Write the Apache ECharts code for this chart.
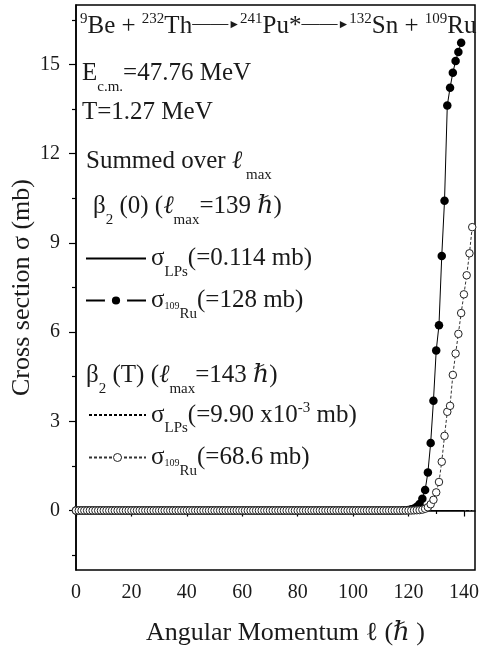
<!DOCTYPE html>
<html>
<head>
<meta charset="utf-8">
<script src="https://cdn.jsdelivr.net/npm/echarts@6/dist/echarts.min.js"></script>
<style>html,body{margin:0;padding:0;background:#fff}#c{width:481px;height:650px}</style>
</head>
<body>
<div id="c"></div>
<script>
// ---- data (σ in mb per angular momentum ℓ; ℓ = array index) ----
const sigmaRu109Beta0 = [
  0,0,0,0,0,0,0,0,0,0,
  0,0,0,0,0,0,0,0,0,0,
  0,0,0,0,0,0,0,0,0,0,
  0,0,0,0,0,0,0,0,0,0,
  0,0,0,0,0,0,0,0,0,0,
  0,0,0,0,0,0,0,0,0,0,
  0,0,0,0,0,0,0,0,0,0,
  0,0,0,0,0,0,0,0,0,0,
  0,0,0,0,0,0,0,0,0,0,
  0,0,0,0,0,0,0,0,0,0,
  0,0,0,0,0,0,0,0,0,0,
  0,0,0,0,0,0,0,0,
  0.01,0.01,0.02,0.04,0.07,0.13,0.22,0.40,0.69,1.28,
  2.27,3.69,5.38,6.23,8.56,10.42,13.62,14.22,14.72,15.12,
  15.42,15.73
];
const sigmaRu109BetaT = [
  0,0,0,0,0,0,0,0,0,0,
  0,0,0,0,0,0,0,0,0,0,
  0,0,0,0,0,0,0,0,0,0,
  0,0,0,0,0,0,0,0,0,0,
  0,0,0,0,0,0,0,0,0,0,
  0,0,0,0,0,0,0,0,0,0,
  0,0,0,0,0,0,0,0,0,0,
  0,0,0,0,0,0,0,0,0,0,
  0,0,0,0,0,0,0,0,0,0,
  0,0,0,0,0,0,0,0,0,0,
  0,0,0,0,0,0,0,0,0,0,
  0,0,0,0,0,0,0,0,0,0,
  0,0,
  0.005,0.01,0.015,0.03,0.06,0.11,0.21,0.36,0.61,0.96,
  1.64,2.51,3.32,3.52,4.56,5.28,5.94,6.64,7.27,7.91,
  8.65,9.53
];
const lpsBeta0 = [[0, 0], [139, 0]];
const lpsBetaT = [[0, 0], [143, 0]];
const xTicks = [0, 20, 40, 60, 80, 100, 120, 140];
const xMinorTicks = [10, 30, 50, 70, 90, 110, 130];
const yTicks = [0, 3, 6, 9, 12, 15];
const yMinorTicks = [-1.5, 1.5, 4.5, 7.5, 10.5, 13.5, 16.5];
const seriesNames = ['σLPs β2(0)', 'σ109Ru β2(0)', 'σLPs β2(T)', 'σ109Ru β2(T)'];
const legendTexts = [
  '{m|σ}{sub|LPs}{m|(=0.114 mb)}',
  '{m|σ}{tiny|109}{sub|Ru}{m|(=128 mb)}',
  '{m|σ}{sub|LPs}{m|(=9.90 x10}{sup|-3}{m| mb)}',
  '{m|σ}{tiny|109}{sub|Ru}{m|(=68.6 mb)}'
];

// ---- styling ----
const FONT = '"Liberation Serif","DejaVu Serif",serif';
const INK = '#1a1a1a';
function tok(o) { return Object.assign({ fontFamily: FONT, color: INK, fill: INK }, o); }
const R = {
  m: tok({ fontSize: 25, lineHeight: 42, verticalAlign: 'middle' }),
  i: tok({ fontSize: 25, fontStyle: 'italic', lineHeight: 42, verticalAlign: 'middle' }),
  sup: tok({ fontSize: 15, lineHeight: 15, padding: [7, 0, 0, 0], verticalAlign: 'top' }),
  sub: tok({ fontSize: 15, lineHeight: 15, verticalAlign: 'bottom' }),
  tiny: tok({ fontSize: 10, lineHeight: 10, padding: [0, 0, 10, 0], verticalAlign: 'bottom' }),
  ar: tok({ fontSize: 18, lineHeight: 18, padding: [10, 0, 0, 0], verticalAlign: 'top' }),
  ah: tok({ fontSize: 12, lineHeight: 12, padding: [14, 0, 0, 0], verticalAlign: 'top' })
};

const chart = echarts.init(document.getElementById('c'), null, { renderer: 'canvas' });

const axisLineStyle = { color: '#000', width: 1.5 };
const option = {
  animation: false,
  backgroundColor: '#fff',
  grid: { left: 76, right: 6, top: 5, bottom: 80, outerBoundsMode: 'none', containLabel: false,
    show: true, borderColor: '#000', borderWidth: 1.5, backgroundColor: 'transparent' },
  xAxis: [
    {
      type: 'value', min: 0, max: 144, position: 'bottom',
      axisLine: { lineStyle: axisLineStyle },
      axisTick: { customValues: xTicks, length: 6, lineStyle: { color: '#000', width: 1.2 } },
      axisLabel: { customValues: xTicks, fontFamily: FONT, fontSize: 20, color: INK, margin: 13 },
      splitLine: { show: false },
      name: 'Angular Momentum ℓ (ℏ )', nameLocation: 'middle', nameGap: 50, nameMoveOverlap: false,
      nameTextStyle: { fontFamily: FONT, fontSize: 26, color: INK, padding: [0, 0, 0, 20] }
    },
    {
      type: 'value', min: 0, max: 144, position: 'bottom',
      axisLine: { show: false },
      axisTick: { customValues: xMinorTicks, length: 3.5, lineStyle: { color: '#000', width: 1.2 } },
      axisLabel: { show: false }, splitLine: { show: false }
    }
  ],
  yAxis: [
    {
      type: 'value', min: -2, max: 17, position: 'left',
      axisLine: { lineStyle: axisLineStyle },
      axisTick: { customValues: yTicks, length: 7, lineStyle: { color: '#000', width: 1.2 } },
      axisLabel: { customValues: yTicks, fontFamily: FONT, fontSize: 20, color: INK, margin: 16 },
      splitLine: { show: false },
      name: 'Cross section σ (mb)', nameLocation: 'middle', nameGap: 41, nameMoveOverlap: false,
      nameTextStyle: { fontFamily: FONT, fontSize: 26, color: INK }
    },
    {
      type: 'value', min: -2, max: 17, position: 'left',
      axisLine: { show: false },
      axisTick: { customValues: yMinorTicks, length: 4, lineStyle: { color: '#000', width: 1.2 } },
      axisLabel: { show: false }, splitLine: { show: false }
    }
  ],
  legend: [
    { data: [{ name: seriesNames[0], itemStyle: { color: 'rgba(0,0,0,0)', borderColor: 'rgba(0,0,0,0)' } }],
      left: 85, top: 246, itemWidth: 60, itemHeight: 10, padding: 0, selectedMode: false,
      formatter: () => legendTexts[0], textStyle: { rich: R, color: INK } },
    { data: [{ name: seriesNames[1], itemStyle: { color: '#000', borderColor: '#fff', borderWidth: 7 } }],
      left: 85, top: 288, itemWidth: 60, itemHeight: 19, padding: 0, selectedMode: false,
      formatter: () => legendTexts[1], textStyle: { rich: R, color: INK } },
    { data: [{ name: seriesNames[2], itemStyle: { color: 'rgba(0,0,0,0)', borderColor: 'rgba(0,0,0,0)' } }],
      left: 88, top: 394, itemWidth: 57, itemHeight: 10, padding: 0, selectedMode: false,
      formatter: () => legendTexts[2], textStyle: { rich: R, color: INK } },
    { data: [{ name: seriesNames[3], itemStyle: { color: '#fff', borderColor: '#222', borderWidth: 1 } }],
      left: 88, top: 445, itemWidth: 57, itemHeight: 10, padding: 0, selectedMode: false,
      formatter: () => legendTexts[3], textStyle: { rich: R, color: INK } }
  ],
  series: [
    { name: seriesNames[0], type: 'line', data: lpsBeta0, showSymbol: false, symbol: 'none',
      lineStyle: { color: '#000', width: 1 }, itemStyle: { color: '#000' }, z: 2 },
    { name: seriesNames[2], type: 'line', data: lpsBetaT, showSymbol: false, symbol: 'none',
      lineStyle: { color: '#000', width: 1, type: [3, 2] }, itemStyle: { color: '#000' }, z: 2 },
    { name: seriesNames[1], type: 'line', data: sigmaRu109Beta0.map((v, l) => [l, v]),
      symbol: 'circle', symbolSize: 8.5, showAllSymbol: true,
      lineStyle: { color: '#000', width: 1 }, itemStyle: { color: '#000', borderWidth: 0 }, z: 3 },
    { name: seriesNames[3], type: 'line', data: sigmaRu109BetaT.map((v, l) => [l, v]),
      symbol: 'circle', symbolSize: 7.5, showAllSymbol: true,
      lineStyle: { color: '#333', width: 1, type: [3, 2] }, itemStyle: { color: '#fff', borderColor: '#222', borderWidth: 1 }, z: 4 }
  ],
  graphic: [
    { type: 'text', left: 80, top: 5, style: { rich: R, text: '{sup|9}{m|Be + }{sup|232}{m|Th}{ar|——}{ah|►}{sup|241}{m|Pu*}{ar|——}{ah|►}{sup|132}{m|Sn + }{sup|109}{m|Ru}' } },
    { type: 'text', left: 82, top: 61, style: { rich: R, text: '{m|E}{sub|c.m.}{m|=47.76 MeV}' } },
    { type: 'text', left: 82, top: 100, style: { rich: R, text: '{m|T=1.27 MeV}' } },
    { type: 'text', left: 86, top: 149, style: { rich: R, text: '{m|Summed over }{i|ℓ}{sub| max}' } },
    { type: 'text', left: 93, top: 194, style: { rich: R, text: '{m|β}{sub|2}{m| (0) (}{i|ℓ}{sub|max}{m|=139 }{i|ℏ}{m|)}' } },
    { type: 'text', left: 86, top: 363, style: { rich: R, text: '{m|β}{sub|2}{m| (T) (}{i|ℓ}{sub|max}{m|=143 }{i|ℏ}{m|)}' } }
  ]
};
chart.setOption(option);
</script>
</body>
</html>
